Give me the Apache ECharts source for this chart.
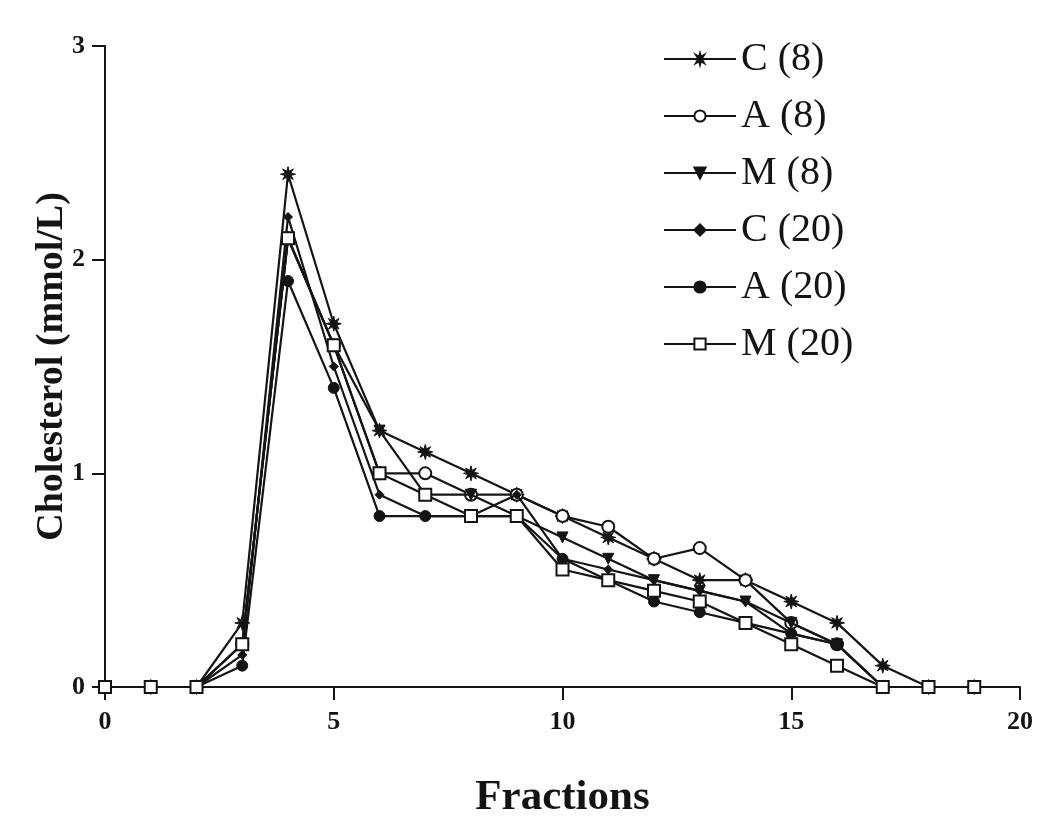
<!DOCTYPE html>
<html>
<head>
<meta charset="utf-8">
<script src="https://cdn.jsdelivr.net/npm/echarts@6/dist/echarts.min.js"></script>
<style>
html,body{margin:0;padding:0;background:#fff;}
#chart{width:1050px;height:831px;}
</style>
</head>
<body>
<div id="chart"></div>
<script>
// Data
const fractions = [0,1,2,3,4,5,6,7,8,9,10,11,12,13,14,15,16,17,18,19];
const seriesNames = ['C (8)','A (8)','M (8)','C (20)','A (20)','M (20)'];
const C8  = [0,0,0,0.3, 2.4,1.7,1.2,1.1,1.0,0.9,0.8,0.7, 0.6,0.5, 0.5,0.4, 0.3,0.1,0,0];
const A8  = [0,0,0,0.2, 2.1,1.6,1.0,1.0,0.9,0.9,0.8,0.75,0.6,0.65,0.5,0.3, 0.2,0,0,0];
const M8  = [0,0,0,0.2, 2.1,1.6,1.2,0.9,0.9,0.8,0.7,0.6, 0.5,0.45,0.4,0.3, 0.2,0,0,0];
const C20 = [0,0,0,0.15,2.2,1.5,0.9,0.8,0.8,0.9,0.6,0.55,0.5,0.45,0.4,0.25,0.2,0,0,0];
const A20 = [0,0,0,0.1, 1.9,1.4,0.8,0.8,0.8,0.8,0.6,0.5, 0.4,0.35,0.3,0.25,0.2,0,0,0];
const M20 = [0,0,0,0.2, 2.1,1.6,1.0,0.9,0.8,0.8,0.55,0.5,0.45,0.4,0.3,0.2, 0.1,0,0,0];
const yTicks = [0,1,2,3];
const xTicks = [0,5,10,15,20];

function asteriskPath(){
  const pts = [];
  const n = 8, R = 10, r = 4.2;
  for (let i = 0; i < n*2; i++){
    const a = Math.PI * i / n - Math.PI/2;
    const rad = (i % 2 === 0) ? R : r;
    pts.push((rad*Math.cos(a)).toFixed(2) + ',' + (rad*Math.sin(a)).toFixed(2));
  }
  return 'path://M' + pts.join('L') + 'Z';
}

const ink = '#141414';
const serif = '"Liberation Serif","DejaVu Serif",serif';

function pairs(arr){ return arr.map((v,i)=>[fractions[i], v]); }

const styles = [
  {data:C8,  symbol: asteriskPath(), size: 15, fill: ink, rotate:0},
  {data:A8,  symbol: 'circle', size: 12, fill: '#fff', rotate:0},
  {data:M8,  symbol: 'triangle', size: 11, fill: ink, rotate:180},
  {data:C20, symbol: 'diamond', size: 9, fill: ink, rotate:0},
  {data:A20, symbol: 'circle', size: 11, fill: ink, rotate:0},
  {data:M20, symbol: 'rect', size: 12, fill: '#fff', rotate:0}
];

const series = styles.map((s, i) => ({
  name: seriesNames[i],
  type: 'line',
  data: pairs(s.data),
  symbol: s.symbol,
  symbolSize: s.size,
  symbolRotate: s.rotate,
  showAllSymbol: true,
  lineStyle: {color: ink, width: 2.2},
  itemStyle: {color: s.fill, borderColor: ink, borderWidth: (s.fill === '#fff') ? 2 : 1},
  emphasis: {disabled: true},
  animation: false,
  z: 2 + i
}));

const chart = echarts.init(document.getElementById('chart'));
chart.setOption({
  backgroundColor: '#fff',
  animation: false,
  grid: {left: 105, right: 30, top: 46, bottom: 144},
  legend: {
    orient: 'vertical',
    left: 658, top: 34,
    itemWidth: 72, itemHeight: 14, itemGap: 17,
    data: seriesNames,
    textStyle: {fontFamily: serif, fontSize: 40, color: ink, lineHeight: 40, padding: [0,0,0,0]},
    inactiveColor: ink
  },
  xAxis: {
    type: 'value', min: 0, max: 20, interval: 5,
    name: 'Fractions', nameLocation: 'middle', nameGap: 89, nameMoveOverlap: false,
    nameTextStyle: {fontFamily: serif, fontSize: 43, fontWeight: 'bold', color: ink},
    axisLine: {show: true, lineStyle: {color: ink, width: 2}},
    axisTick: {show: true, length: 13, inside: false, lineStyle: {color: ink, width: 2}},
    axisLabel: {fontFamily: serif, fontSize: 26, fontWeight: 'bold', color: ink, margin: 22,
      formatter: v => xTicks.includes(v) ? String(v) : ''},
    splitLine: {show: false}
  },
  yAxis: {
    type: 'value', min: 0, max: 3, interval: 1,
    name: 'Cholesterol (mmol/L)', nameLocation: 'middle', nameGap: 34, nameMoveOverlap: false,
    nameTextStyle: {fontFamily: serif, fontSize: 38, fontWeight: 'bold', color: ink},
    axisLine: {show: true, lineStyle: {color: ink, width: 2}},
    axisTick: {show: true, length: 13, inside: false, lineStyle: {color: ink, width: 2}},
    axisLabel: {fontFamily: serif, fontSize: 26, fontWeight: 'bold', color: ink, margin: 20,
      formatter: v => yTicks.includes(v) ? String(v) : ''},
    splitLine: {show: false}
  },
  series: series
});
</script>
</body>
</html>
